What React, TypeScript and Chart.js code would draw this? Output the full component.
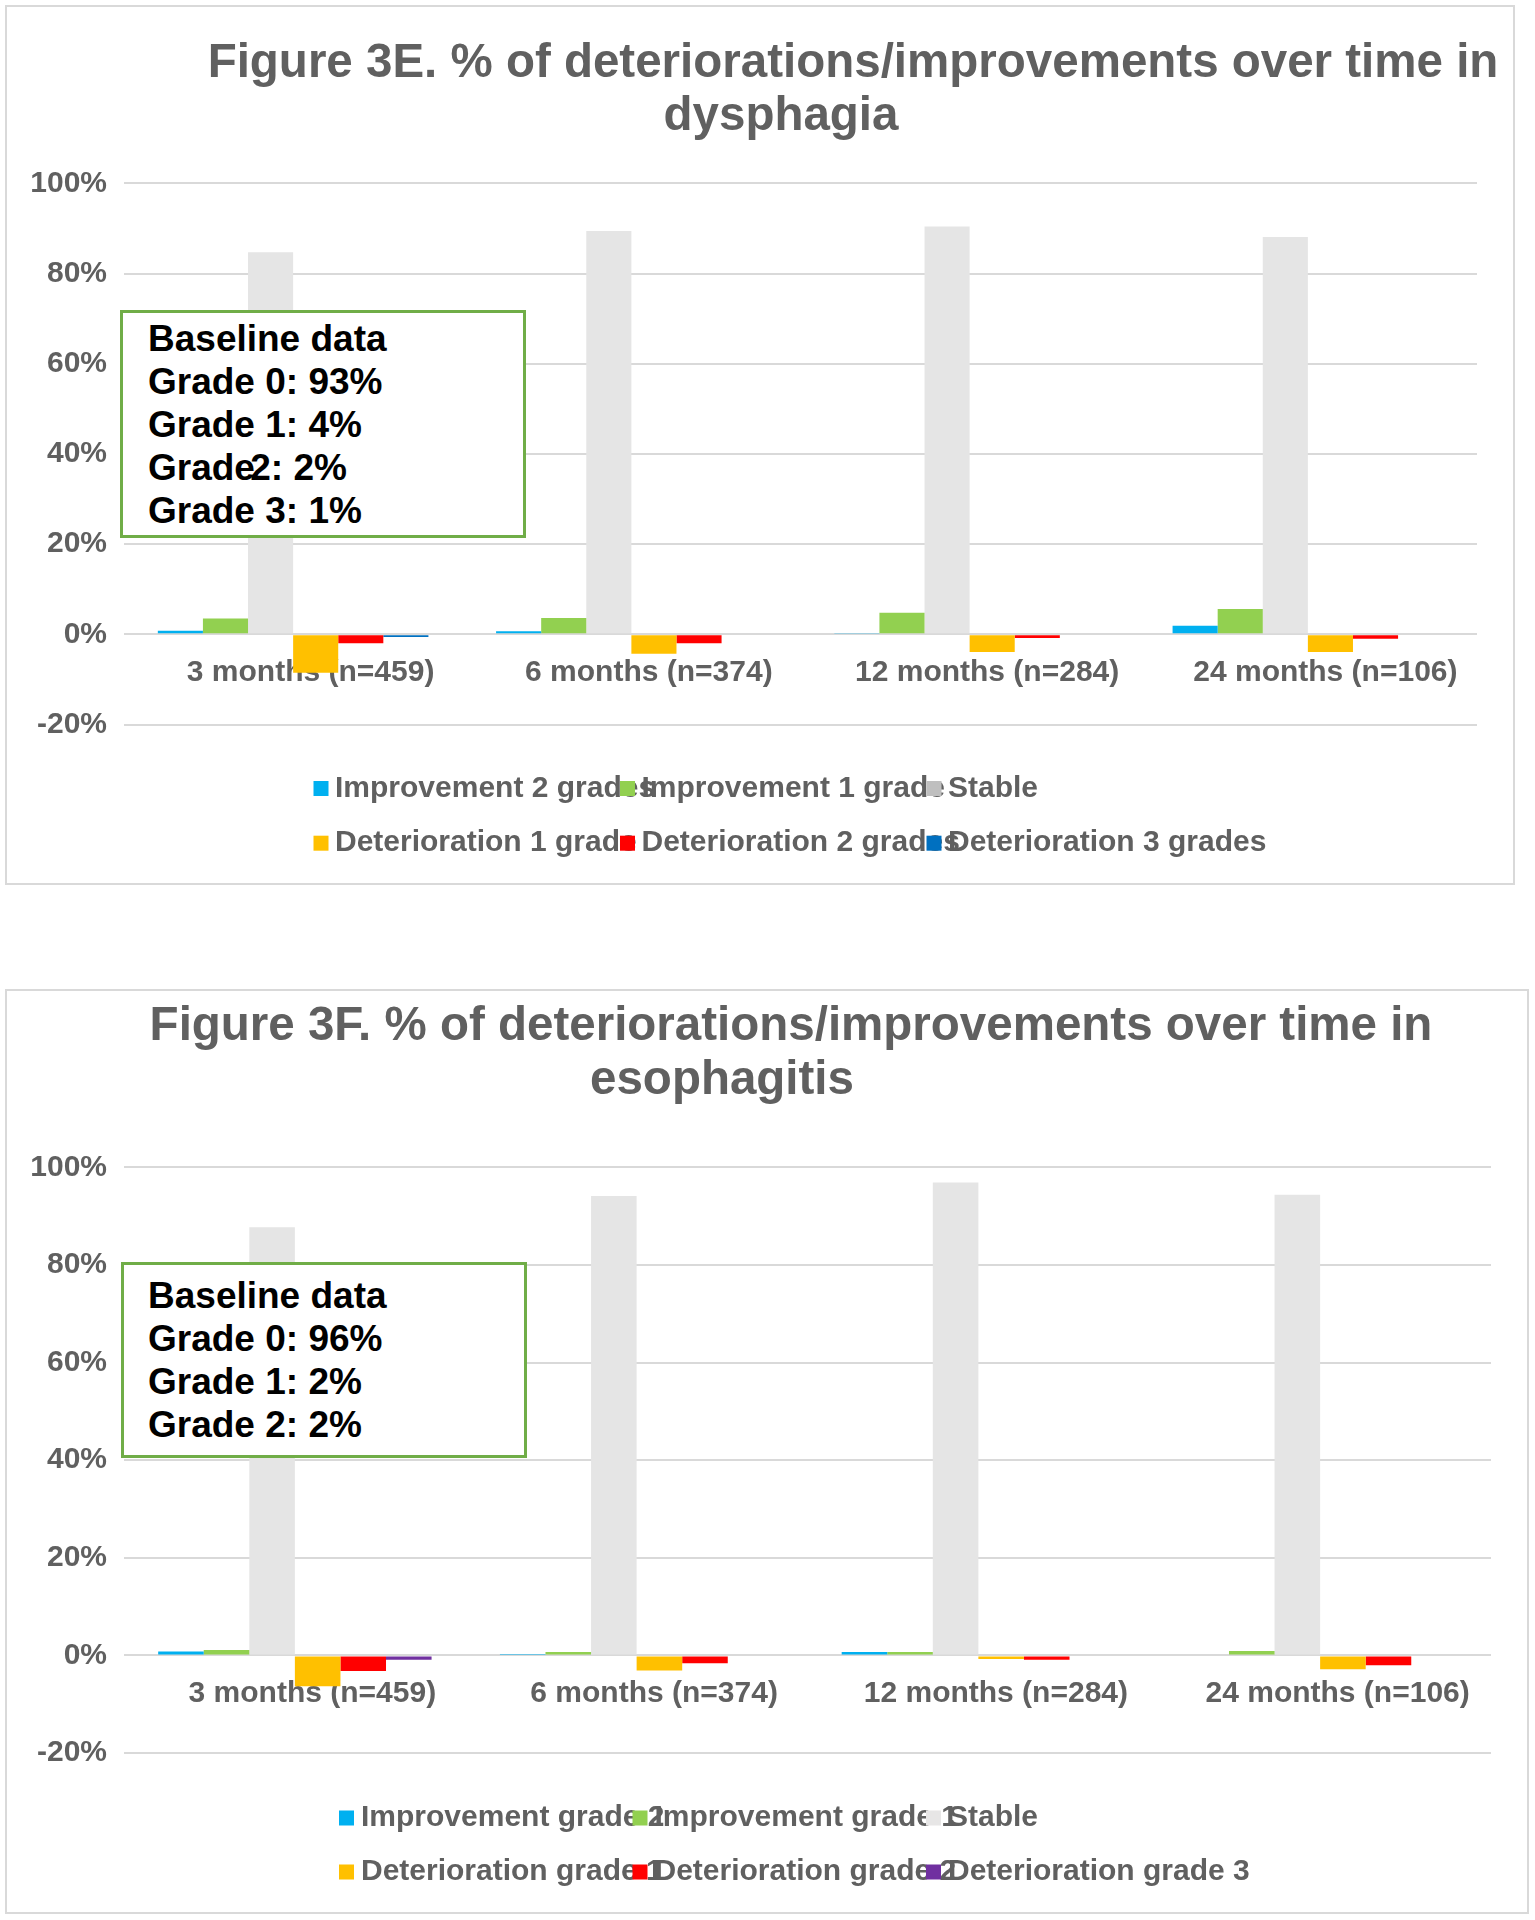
import React, { useEffect, useRef } from 'react';
import { Chart, registerables } from 'chart.js';

Chart.register(...registerables);

const FONT = '"Liberation Sans", Arial, "DejaVu Sans", sans-serif';
const TEXT_GRAY = '#606060';
Chart.defaults.font.family = FONT;

// ---------- shared data ----------
const categories = ['3 months (n=459)', '6 months (n=374)', '12 months (n=284)', '24 months (n=106)'];
const yMin = -20;
const yMax = 100;
const yStep = 20;

// ---------- Figure 3E: dysphagia (values in %) ----------
const dysTitle = ['Figure 3E. % of deteriorations/improvements over time in', 'dysphagia'];
const dysLabels = [
  'Improvement 2 grades',
  'Improvement 1 grade',
  'Stable',
  'Deterioration 1 grade',
  'Deterioration 2 grades',
  'Deterioration 3 grades',
];
const dysImprove2 = [0.8, 0.7, 0.3, 1.9];
const dysImprove1 = [3.5, 3.6, 4.8, 5.6];
const dysStable = [84.7, 89.4, 90.4, 88.1];
const dysDeter1 = [-8.5, -4.3, -3.9, -3.9];
const dysDeter2 = [-2.0, -2.0, -0.8, -1.0];
const dysDeter3 = [-0.6, 0, 0, 0];
const dysBaseline = ['Baseline data', 'Grade 0: 93%', 'Grade 1: 4%', 'Grade 2: 2%', 'Grade 3: 1%'];

// ---------- Figure 3F: esophagitis (values in %) ----------
const esoTitle = ['Figure 3F. % of deteriorations/improvements over time in', 'esophagitis'];
const esoLabels = [
  'Improvement grade 2',
  'Improvement grade 1',
  'Stable',
  'Deterioration grade 1',
  'Deterioration grade 2',
  'Deterioration grade 3',
];
const esoImprove2 = [0.8, 0.3, 0.7, 0];
const esoImprove1 = [1.1, 0.7, 0.7, 0.9];
const esoStable = [87.7, 94.1, 96.9, 94.4];
const esoDeter1 = [-6.3, -3.1, -0.7, -2.8];
const esoDeter2 = [-3.2, -1.6, -0.9, -2.0];
const esoDeter3 = [-0.9, 0, 0, 0];
const esoBaseline = ['Baseline data', 'Grade 0: 96%', 'Grade 1: 2%', 'Grade 2: 2%'];

// ---------- colours ----------
const dysColors = ['#00B0F0', '#92D050', '#E5E5E5', '#FFC000', '#FF0000', '#0070C0'];
const dysSwatch = ['#00B0F0', '#92D050', '#BFBFBF', '#FFC000', '#FF0000', '#0070C0'];
const esoColors = ['#00B0F0', '#92D050', '#E5E5E5', '#FFC000', '#FF0000', '#7030A0'];
const esoSwatch = ['#00B0F0', '#92D050', '#E7E6E6', '#FFC000', '#FF0000', '#7030A0'];

// ---------- plugins ----------
const titleLinesPlugin = {
  id: 'titleLines',
  afterDraw(chart: any, _args: any, opts: any) {
    if (!opts || !opts.lines) return;
    const ctx = chart.ctx;
    ctx.save();
    ctx.font = `bold ${opts.size}px ${FONT}`;
    ctx.fillStyle = opts.color;
    ctx.textAlign = 'center';
    ctx.textBaseline = 'alphabetic';
    opts.lines.forEach((l: any) => ctx.fillText(l.text, l.x, l.y));
    ctx.restore();
  },
};

const gridLegendPlugin = {
  id: 'gridLegend',
  afterDraw(chart: any, _args: any, opts: any) {
    if (!opts || opts.x === undefined) return;
    const ctx = chart.ctx;
    ctx.save();
    ctx.font = `bold ${opts.size}px ${FONT}`;
    ctx.textAlign = 'left';
    ctx.textBaseline = 'middle';
    const s = opts.box;
    chart.data.datasets.forEach((ds: any, i: number) => {
      const col = i % opts.columns;
      const row = Math.floor(i / opts.columns);
      const x = opts.x + col * opts.colWidth;
      const y = opts.y + row * opts.rowHeight;
      ctx.fillStyle = (opts.swatches && opts.swatches[i]) || ds.backgroundColor;
      ctx.fillRect(x, y - s / 2, s, s);
      ctx.fillStyle = opts.color;
      ctx.fillText(ds.label, x + opts.textOffset, y);
    });
    ctx.restore();
  },
};

function buildConfig(p: any): any {
  return {
    type: 'bar',
    data: {
      labels: categories,
      datasets: p.series.map((vals: number[], i: number) => ({
        label: p.labels[i],
        data: vals,
        backgroundColor: p.colors[i],
        borderWidth: 0,
        categoryPercentage: 0.8,
        barPercentage: 1.0,
      })),
    },
    options: {
      responsive: false,
      animation: false,
      devicePixelRatio: 1,
      layout: { padding: { left: 0, right: p.padRight, top: p.padTop, bottom: p.padBottom } },
      plugins: {
        legend: { display: false },
        tooltip: { enabled: false },
        titleLines: { lines: p.titleLines, size: 47.5, color: TEXT_GRAY },
        gridLegend: {
          x: p.legend.x,
          y: p.legend.y,
          colWidth: p.legend.colWidth,
          rowHeight: p.legend.rowHeight,
          columns: 3,
          box: 15,
          textOffset: p.legend.textOffset,
          size: 30,
          color: TEXT_GRAY,
          swatches: p.swatches,
        },
      },
      scales: {
        x: {
          position: { y: 0 },
          z: 1,
          grid: { display: false },
          border: { display: false },
          ticks: {
            font: { size: 30, weight: 'bold', family: FONT },
            color: TEXT_GRAY,
            padding: 12,
            labelOffset: 17.5,
            autoSkip: false,
            maxRotation: 0,
            minRotation: 0,
          },
        },
        y: {
          min: yMin,
          max: yMax,
          grid: { color: '#D9D9D9', lineWidth: 2, drawTicks: false },
          border: { display: false },
          ticks: {
            stepSize: yStep,
            callback: (v: any) => `${v}%`,
            font: { size: 30, weight: 'bold', family: FONT },
            color: TEXT_GRAY,
            padding: 17,
          },
          afterFit: (s: any) => {
            s.width = 124;
          },
        },
      },
    },
    plugins: [titleLinesPlugin, gridLegendPlugin],
  };
}

const dysConfig = () =>
  buildConfig({
    series: [dysImprove2, dysImprove1, dysStable, dysDeter1, dysDeter2, dysDeter3],
    labels: dysLabels,
    colors: dysColors,
    swatches: dysSwatch,
    padTop: 183.3,
    padBottom: 950 - 724.5,
    padRight: 58,
    titleLines: [
      { text: dysTitle[0], x: 853, y: 77 },
      { text: dysTitle[1], x: 781, y: 130 },
    ],
    legend: { x: 313.5, y: 788.5, colWidth: 306.5, rowHeight: 54.7, textOffset: 21.5 },
  });

const esoConfig = () =>
  buildConfig({
    series: [esoImprove2, esoImprove1, esoStable, esoDeter1, esoDeter2, esoDeter3],
    labels: esoLabels,
    colors: esoColors,
    swatches: esoSwatch,
    padTop: 1167.3 - 950,
    padBottom: 970 - (1753.1 - 950),
    padRight: 44,
    titleLines: [
      { text: esoTitle[0], x: 791, y: 1040 - 950 },
      { text: esoTitle[1], x: 722, y: 1093.5 - 950 },
    ],
    legend: { x: 339, y: 1818 - 950, colWidth: 293.5, rowHeight: 54, textOffset: 22 },
  });

function ChartCanvas({ makeConfig, top, height }: { makeConfig: () => any; top: number; height: number }) {
  const ref = useRef<HTMLCanvasElement | null>(null);
  useEffect(() => {
    if (!ref.current) return;
    const chart = new Chart(ref.current, makeConfig());
    return () => chart.destroy();
  }, []);
  return (
    <canvas
      ref={ref}
      width={1535}
      height={height}
      style={{ position: 'absolute', left: 0, top, width: 1535, height, display: 'block' }}
    />
  );
}

function BaselineBox({ lines, left, top, width, height, padTop, padLeft }: any) {
  return (
    <div
      style={{
        position: 'absolute',
        left,
        top,
        width,
        height,
        boxSizing: 'border-box',
        border: '3px solid #70AD47',
        background: '#FFFFFF',
        paddingTop: padTop,
        paddingLeft: padLeft,
        fontFamily: FONT,
        fontWeight: 'bold',
        fontSize: 37,
        lineHeight: '43px',
        color: '#000000',
        whiteSpace: 'nowrap',
      }}
    >
      {lines.map((l: string, i: number) => {
        if (l === 'Grade 2: 2%' && lines.length === 5) {
          return (
            <div key={i}>
              <span style={{ wordSpacing: '-15px' }}>Grade 2</span>: 2%
            </div>
          );
        }
        return <div key={i}>{l}</div>;
      })}
    </div>
  );
}

export default function App() {
  return (
    <div style={{ position: 'absolute', left: 0, top: 0, width: 1535, height: 1920, background: '#FFFFFF' }}>
      <div
        style={{
          position: 'absolute',
          left: 5,
          top: 5,
          width: 1510,
          height: 880,
          boxSizing: 'border-box',
          border: '2px solid #D9D9D9',
        }}
      />
      <div
        style={{
          position: 'absolute',
          left: 5,
          top: 989,
          width: 1524,
          height: 925,
          boxSizing: 'border-box',
          border: '2px solid #D9D9D9',
        }}
      />
      <ChartCanvas makeConfig={dysConfig} top={0} height={950} />
      <ChartCanvas makeConfig={esoConfig} top={950} height={970} />
      <BaselineBox lines={dysBaseline} left={120} top={310} width={406} height={228} padTop={4} padLeft={25} />
      <BaselineBox lines={esoBaseline} left={121} top={1262} width={406} height={196} padTop={9} padLeft={24} />
    </div>
  );
}
